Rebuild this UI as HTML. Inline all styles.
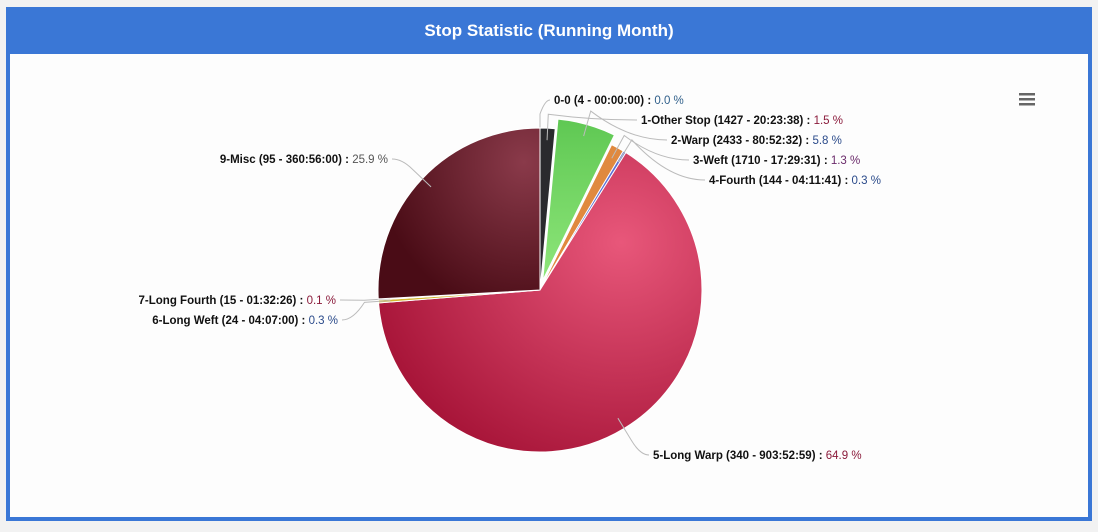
<!DOCTYPE html>
<html><head><meta charset="utf-8"><style>
body{margin:0;width:1098px;height:532px;background:#f2f2f2;font-family:"Liberation Sans",sans-serif;overflow:hidden;position:relative}
#box{position:absolute;left:6px;top:7px;width:1078px;height:510px;border:4px solid #3a77d6;border-top:none;background:#fdfdfd}
#hdr{position:absolute;left:6px;top:7px;width:1086px;height:47px;background:#3a77d6;color:#fff;font-weight:bold;font-size:17px;text-align:center;line-height:48px}
svg{position:absolute;left:0;top:0}
text{font-family:"Liberation Sans",sans-serif;font-size:11.5px}
</style></head><body>
<div id="box"></div>
<div id="hdr">Stop Statistic (Running Month)</div>
<svg id="chart" width="1098" height="532">
<defs>
<radialGradient id="gm" cx="0.75" cy="0.3" r="0.9"><stop offset="0" stop-color="#e8577a"/><stop offset="1" stop-color="#a00d31"/></radialGradient>
<radialGradient id="gmisc" cx="0.9" cy="0.2" r="0.9"><stop offset="0" stop-color="#8a3a4a"/><stop offset="1" stop-color="#4a0c16"/></radialGradient>
<linearGradient id="gg" x1="0" y1="1" x2="0" y2="0"><stop offset="0" stop-color="#8ee67a"/><stop offset="1" stop-color="#5fc853"/></linearGradient>
</defs>
<g><rect x="1019" y="93" width="16" height="2.5" fill="#666"/><rect x="1019" y="98" width="16" height="2.5" fill="#666"/><rect x="1019" y="103" width="16" height="2.5" fill="#666"/></g>
</svg>
<script>
const categories=["0-0 (4 - 00:00:00)","1-Other Stop (1427 - 20:23:38)","2-Warp (2433 - 80:52:32)","3-Weft (1710 - 17:29:31)","4-Fourth (144 - 04:11:41)","5-Long Warp (340 - 903:52:59)","6-Long Weft (24 - 04:07:00)","7-Long Fourth (15 - 01:32:26)","9-Misc (95 - 360:56:00)"];
const values=[0.0,1.5,5.8,1.3,0.3,64.9,0.3,0.1,25.9];
const pctLabels=["0.0","1.5","5.8","1.3","0.3","64.9","0.3","0.1","25.9"];
const fills=["#333","#2a2a2e","url(#gg)","#e0893f","#5b6fd6","url(#gm)","#d4b830","#e5d04a","url(#gmisc)"];
const pctColors=["#2f5f8a","#8a1a3a","#2a4a8a","#6a2a6a","#2a4a8a","#8a1a3a","#2a4a8a","#8a1a3a","#555"];
const exploded=[false,false,true,false,false,false,false,false,false];
const labelPos=[[554,104,"l"],[641,124,"l"],[671,144,"l"],[693,164,"l"],[709,184,"l"],[653,459,"l"],[338,324,"r"],[336,304,"r"],[388,163,"r"]];
const svg=document.getElementById('chart');const NS="http://www.w3.org/2000/svg";
const cx=540,cy=290,R=162;
const total=values.reduce((a,b)=>a+b,0);
function pt(a,r,ox,oy){return [ox+r*Math.sin(a),oy-r*Math.cos(a)];}
let acc=0;
values.forEach((v,i)=>{
 const a0=acc/total*2*Math.PI;acc+=v;const a1=acc/total*2*Math.PI;const am=(a0+a1)/2;
 let ox=cx,oy=cy;if(exploded[i]){ox+=10*Math.sin(am);oy-=10*Math.cos(am);}
 if(v>0){
  const p0=pt(a0,R,ox,oy),p1=pt(a1,R,ox,oy);
  const path=document.createElementNS(NS,'path');
  path.setAttribute('d',`M${ox},${oy}L${p0[0]},${p0[1]}A${R},${R} 0 ${a1-a0>Math.PI?1:0} 1 ${p1[0]},${p1[1]}Z`);
  path.setAttribute('fill',fills[i]);path.setAttribute('stroke','#fff');path.setAttribute('stroke-width','1');
  
  
  svg.appendChild(path);
 }
 const [lx,ly,side]=labelPos[i];
 const e=pt(am,R-12,ox,oy),m=pt(am,R+14,ox,oy);
 const ln=document.createElementNS(NS,'path');
 const ex=side==="l"?lx-4:lx+4;
 ln.setAttribute('d',`M${e[0]},${e[1]}L${m[0]},${m[1]}Q${(m[0]+ex)/2},${ly-4} ${ex},${ly-4}`);
 ln.setAttribute('fill','none');ln.setAttribute('stroke','#bbb');ln.setAttribute('stroke-width','1');
 
 
 svg.appendChild(ln);
 const t=document.createElementNS(NS,'text');
 t.setAttribute('x',lx);t.setAttribute('y',ly);t.setAttribute('text-anchor',side==="l"?"start":"end");
 
 
 const s1=document.createElementNS(NS,'tspan');s1.setAttribute('font-weight','bold');s1.setAttribute('fill','#111');s1.textContent=categories[i]+" : ";
 const s2=document.createElementNS(NS,'tspan');s2.setAttribute('fill',pctColors[i]);s2.textContent=pctLabels[i]+" %";
 t.appendChild(s1);t.appendChild(s2);svg.appendChild(t);
});
</script>
</body></html>
